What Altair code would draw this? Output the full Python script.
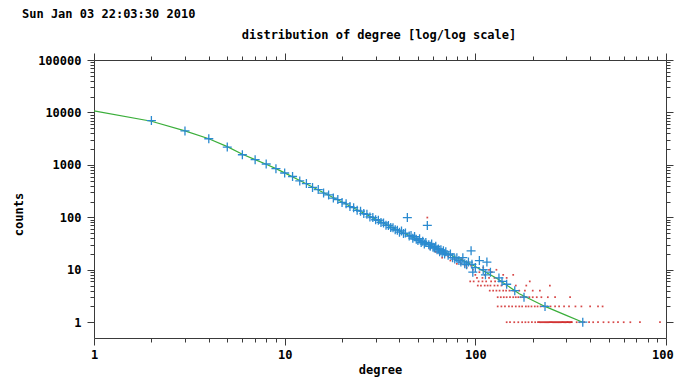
import altair as alt
import pandas as pd

# ---- data ----
# binned degree distribution (blue crosses)
cross_degree = [2, 3, 4, 5, 6, 7, 8, 9, 10,
                11, 12, 13, 14, 15, 16, 17, 18, 19, 20,
                21, 22, 23, 24, 25, 26, 27, 28, 29, 30,
                31, 32, 33, 34, 35, 36, 37, 38, 39, 40,
                41, 42, 43, 44, 45, 46, 47, 48, 49, 50,
                51, 52, 53, 54, 55, 56, 57, 58, 59, 60,
                61, 62, 63, 64, 65, 66, 67, 68, 69, 70,
                72, 74, 76, 78, 80, 82, 84, 86, 88, 90,
                92, 95, 96, 97, 100, 105, 110, 113, 115, 120,
                133, 138, 146, 161, 180, 232, 366]
cross_count = [7010, 4450, 3150, 2190, 1560, 1256, 1040, 847, 701,
               600, 495, 440, 372, 338, 290, 268, 233, 218, 192,
               181, 160, 153, 136, 131, 118, 114, 102, 99, 90,
               88, 80, 78, 71, 70, 64, 63, 58, 57, 52,
               55, 49, 50, 99, 44, 45, 40, 43, 38, 36,
               39, 33, 35, 31, 33, 70, 30, 28, 31, 27,
               26, 28, 24, 25, 22, 24, 21, 23, 20, 22,
               19, 20, 17, 16, 17, 15, 14, 17, 13, 12.5,
               14, 23, 12.7, 9, 11, 15, 10, 8, 14, 9,
               7, 6, 5.3, 4, 3, 2, 1]

# fitted curve (green line)
fit_degree = [1, 2, 3, 4, 5, 6, 7, 8, 9, 10, 12, 15, 20, 25, 30, 40,
              50, 60, 70, 80, 90, 100, 130, 170, 232, 300, 366]
fit_count = [10700, 6800, 4450, 3150, 2230, 1600, 1260, 1030, 850, 705,
             503, 333, 196, 129, 92, 55, 37.6, 27.6, 21.2, 16.9, 13.9,
             11.5, 6.8, 3.5, 2.0, 1.35, 1.0]

# raw counts (red dots)
raw_by_count = {
    1: [146, 152, 160, 168, 176, 183, 190, 198, 206, 213, 216, 219, 222,
        225, 228, 231, 234, 237, 240, 243, 246, 249, 252, 255, 258, 261,
        264, 267, 270, 273, 276, 279, 282, 285, 288, 291, 294, 297, 300,
        303, 306, 309, 312, 315, 318, 321, 340, 352, 372, 395, 415, 440,
        470, 500, 530, 560, 600, 650, 730, 930],
    2: [131, 137, 143, 150, 156, 163, 170, 176, 184, 190, 197, 205, 212,
        220, 228, 238, 248, 262, 275, 292, 310, 335, 360, 400, 440, 465],
    3: [131, 136, 141, 146, 152, 158, 163, 168, 173, 178, 185, 192, 200,
        210, 222, 240, 262, 314],
    4: [119, 124, 129, 134, 140, 145, 151, 158, 170, 182, 200, 218],
    5: [103, 107, 112, 116, 120, 126, 131, 137, 146, 163, 185, 246],
    6: [94, 98, 104, 109, 114, 121, 127, 136, 193],
    7: [102, 109, 118, 126, 146],
    8: [100, 112, 140, 158],
    9: [105, 122],
    10: [97, 118, 129],
    11: [90, 110],
    12: [88, 95],
    13: [80, 84],
    14: [83, 92],
    15: [74, 86],
    16: [78, 85],
    17: [67, 76],
    18: [72],
    20: [65, 70],
    22: [62],
    25: [58],
    99: [56],
}

x_ticks = [1, 2, 3, 4, 5, 6, 7, 8, 9,
           10, 20, 30, 40, 50, 60, 70, 80, 90,
           100, 200, 300, 400, 500, 600, 700, 800, 900, 1000]
y_ticks = [1, 2, 3, 4, 5, 6, 7, 8, 9,
           10, 20, 30, 40, 50, 60, 70, 80, 90,
           100, 200, 300, 400, 500, 600, 700, 800, 900,
           1000, 2000, 3000, 4000, 5000, 6000, 7000, 8000, 9000,
           10000, 20000, 30000, 40000, 50000, 60000, 70000, 80000, 90000,
           100000]

title_text = "distribution of degree [log/log scale]"
stamp_text = "Sun Jan 03 22:03:30 2010"

# ---- tables ----
crosses = pd.DataFrame({"degree": cross_degree, "counts": cross_count})
fit = pd.DataFrame({"degree": fit_degree, "counts": fit_count})
raw_rows = [(d, c) for c, ds in raw_by_count.items() for d in ds]
raw = pd.DataFrame(raw_rows, columns=["degree", "counts"])

FONT = "DejaVu Sans Mono"
AX = "#3a3a3a"

xscale = alt.Scale(type="log", domain=[1, 1000], nice=False)
yscale = alt.Scale(type="log", domain=[0.5, 100000], nice=False)

xmaj = "indexof([1,10,100,1000], datum.value) >= 0"
ymaj = "indexof([1,10,100,1000,10000,100000], datum.value) >= 0"

x_axis = alt.Axis(
    orient="bottom", values=x_ticks, format="d",
    labelExpr=f"{xmaj} ? datum.label : ''",
    labelOverlap=False, labelFlush=False,
    tickSize={"condition": {"test": xmaj, "value": 7}, "value": 4},
    tickColor=AX, domainColor=AX, grid=False,
    labelFont=FONT, labelFontWeight="bold", labelFontSize=12, labelColor="black",
    labelPadding=4,
    title="degree", titleFont=FONT, titleFontWeight="bold", titleFontSize=12,
    titleColor="black", titleY=31, titleBaseline="middle",
)
y_axis = alt.Axis(
    orient="left", values=y_ticks, format="d",
    labelExpr=f"{ymaj} ? datum.label : ''",
    labelOverlap=False, labelFlush=False,
    tickSize={"condition": {"test": ymaj, "value": 7}, "value": 4},
    tickColor=AX, domainColor=AX, grid=False,
    labelFont=FONT, labelFontWeight="bold", labelFontSize=12, labelColor="black",
    labelPadding=6,
    title="counts", titleFont=FONT, titleFontWeight="bold", titleFontSize=12,
    titleColor="black", titleX=-76, titleY=154, titleBaseline="middle",
)
x_axis_top = alt.Axis(
    orient="top", values=x_ticks, labels=False, title=None, grid=False,
    tickSize={"condition": {"test": xmaj, "value": 7}, "value": 4},
    tickColor=AX, domainColor=AX,
)
y_axis_right = alt.Axis(
    orient="right", values=y_ticks, labels=False, title=None, grid=False,
    tickSize={"condition": {"test": ymaj, "value": 7}, "value": 4},
    tickColor=AX, domainColor=AX,
)

red = alt.Chart(raw).mark_square(size=3, color="#d02828", opacity=0.85).encode(
    x=alt.X("degree:Q", scale=xscale, axis=x_axis),
    y=alt.Y("counts:Q", scale=yscale, axis=y_axis),
)
green = alt.Chart(fit).mark_line(color="#3aae3a", strokeWidth=1.2).encode(
    x=alt.X("degree:Q", scale=xscale, axis=x_axis),
    y=alt.Y("counts:Q", scale=yscale, axis=y_axis),
)
blue = alt.Chart(crosses).mark_point(
    shape="M-1,0L1,0M0,-1L0,1", filled=False, size=81,
    strokeWidth=1.3, color="#2a8ad0", opacity=1,
).encode(
    x=alt.X("degree:Q", scale=xscale, axis=x_axis),
    y=alt.Y("counts:Q", scale=yscale, axis=y_axis),
)
base = alt.layer(red, green, blue)

mirror = alt.Chart(fit).mark_point(opacity=0).encode(
    x=alt.X("degree:Q", scale=xscale, axis=x_axis_top),
    y=alt.Y("counts:Q", scale=yscale, axis=y_axis_right),
)

texts = pd.DataFrame({"t": [stamp_text, title_text],
                      "kind": ["stamp", "title"]})
stamp = alt.Chart(texts).transform_filter("datum.kind == 'stamp'").mark_text(
    align="left", baseline="middle", font=FONT, fontWeight="bold",
    fontSize=12, color="black",
).encode(x=alt.value(-72), y=alt.value(-46), text="t:N")
title = alt.Chart(texts).transform_filter("datum.kind == 'title'").mark_text(
    align="center", baseline="middle", font=FONT, fontWeight="bold",
    fontSize=12, color="black",
).encode(x=alt.value(285), y=alt.value(-25), text="t:N")

chart = alt.layer(base, mirror, stamp, title).resolve_axis(
    x="independent", y="independent"
).properties(
    width=572, height=278,
    autosize=alt.AutoSizeParams(type="none"),
    padding={"left": 86, "top": 52, "right": 8, "bottom": 39},
).configure_view(stroke=None)

chart.save("out.html", embed_options={"renderer": "svg", "actions": False})
